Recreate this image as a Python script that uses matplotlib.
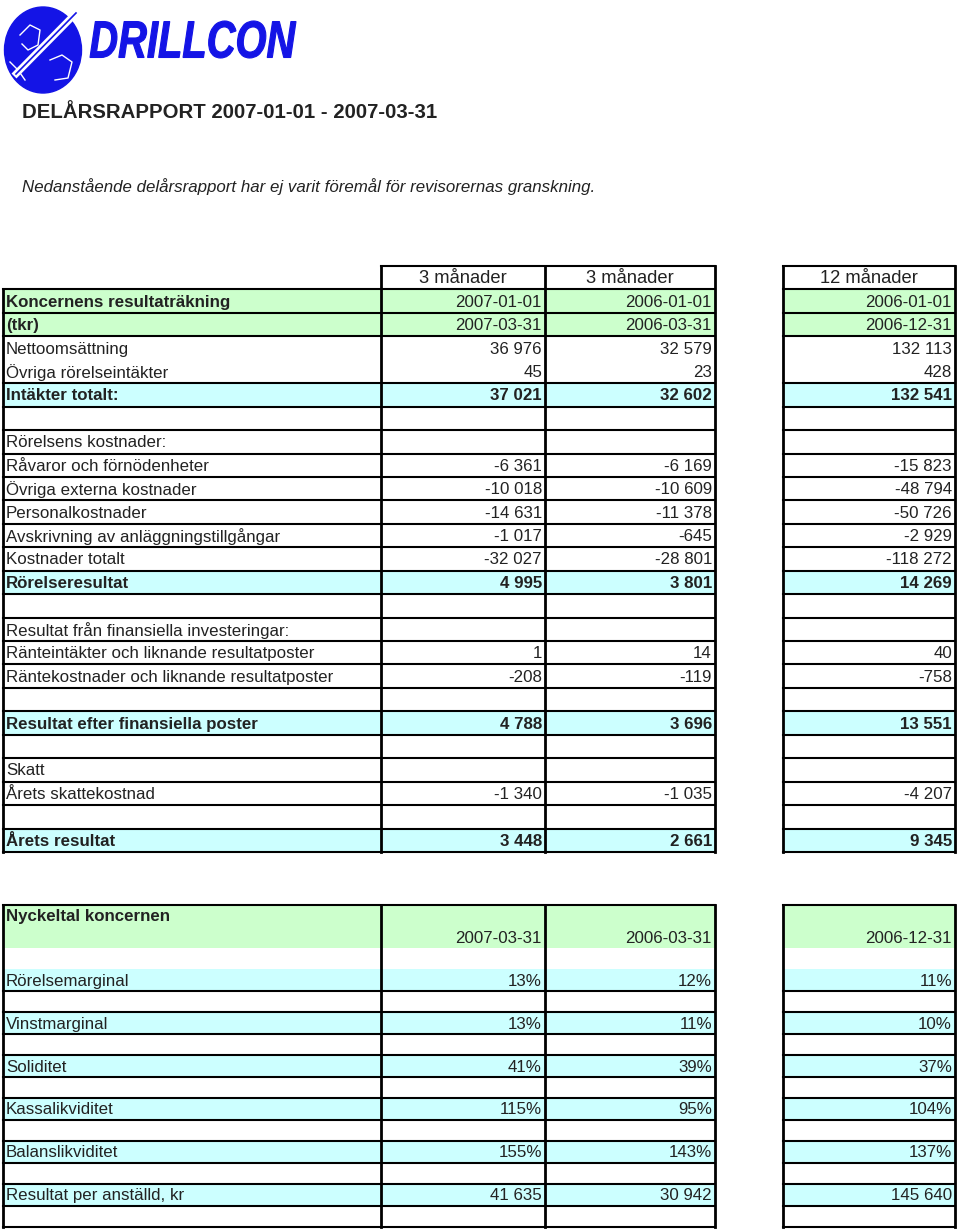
import matplotlib.pyplot as plt
from matplotlib.patches import Rectangle, Ellipse, PathPatch
from matplotlib.textpath import TextPath
from matplotlib.font_manager import FontProperties
from matplotlib.transforms import Affine2D

plt.rcParams['font.family'] = ['Liberation Sans', 'DejaVu Sans']

# --- data -------------------------------------------------------------
period_len = ["3 månader", "3 månader", "12 månader"]
period_start = ["2007-01-01", "2006-01-01", "2006-01-01"]
period_end = ["2007-03-31", "2006-03-31", "2006-12-31"]

labels = ["Nettoomsättning", "Övriga rörelseintäkter", "Intäkter totalt:", "",
          "Rörelsens kostnader:", "Råvaror och förnödenheter",
          "Övriga externa kostnader", "Personalkostnader",
          "Avskrivning av anläggningstillgångar", "Kostnader totalt",
          "Rörelseresultat", "", "Resultat från finansiella investeringar:",
          "Ränteintäkter och liknande resultatposter",
          "Räntekostnader och liknande resultatposter", "",
          "Resultat efter finansiella poster", "", "Skatt",
          "Årets skattekostnad", "", "Årets resultat"]
q1_2007 = [36976, 45, 37021, None, None, -6361, -10018, -14631, -1017, -32027,
           4995, None, None, 1, -208, None, 4788, None, None, -1340, None, 3448]
q1_2006 = [32579, 23, 32602, None, None, -6169, -10609, -11378, -645, -28801,
           3801, None, None, 14, -119, None, 3696, None, None, -1035, None, 2661]
fy_2006 = [132113, 428, 132541, None, None, -15823, -48794, -50726, -2929,
           -118272, 14269, None, None, 40, -758, None, 13551, None, None,
           -4207, None, 9345]

kpi_labels = ["Rörelsemarginal", "Vinstmarginal", "Soliditet",
              "Kassalikviditet", "Balanslikviditet", "Resultat per anställd, kr"]
kpi_unit = ["%", "%", "%", "%", "%", ""]
kpi_2007q1 = [13, 13, 41, 115, 155, 41635]
kpi_2006q1 = [12, 11, 39, 95, 143, 30942]
kpi_2006 = [11, 10, 37, 104, 137, 145640]

# styling
bold_rows = {"Intäkter totalt:", "Rörelseresultat",
             "Resultat efter finansiella poster", "Årets resultat"}
GREEN = "#ccffcc"
CYAN = "#ccffff"
TXT = "#222222"
BLUE = "#1414e6"
FS = 12.2
cols = [(3, 381), (381, 545), (545, 715), (783, 955)]


def fmt(v):
    s = f"{abs(v):,}".replace(",", " ")
    return ("-" if v < 0 else "") + s


fig = plt.figure(figsize=(9.6, 12.31), dpi=100)
ax = fig.add_axes([0, 0, 1, 1])
ax.set_xlim(0, 960)
ax.set_ylim(1231, 0)
ax.axis("off")

# --- logo -------------------------------------------------------------
ax.add_patch(Ellipse((43, 50), 77, 86, color=BLUE))
ax.plot([20, 30, 40, 38, 28, 22], [35, 25, 30, 45, 50, 44], color="white", lw=1)
ax.plot([50, 62, 72, 68, 55], [60, 55, 62, 78, 80], color="white", lw=1)
ax.plot([10, 18, 25], [62, 70, 80], color="white", lw=1)
ax.plot([14, 78], [76, 11], color="white", lw=5, solid_capstyle="butt")
ax.plot([16, 76], [74, 13], color=BLUE, lw=1.2)
tp = TextPath((0, 0), "DRILLCON", size=1,
              prop=FontProperties(family="Liberation Sans", weight="bold", style="italic"))
bb = tp.get_extents()
tr = Affine2D().translate(-bb.x0, -bb.y0).scale(206 / bb.width, -37 / bb.height).translate(90, 58)
ax.add_patch(PathPatch(tr.transform_path(tp), facecolor=BLUE, edgecolor=BLUE, lw=0.8))

# --- titles -----------------------------------------------------------
ax.text(22, 113, "DELÅRSRAPPORT 2007-01-01 - 2007-03-31", fontsize=14.7,
        fontweight="bold", color=TXT, va="center")
ax.text(22, 187, "Nedanstående delårsrapport har ej varit föremål för revisorernas granskning.",
        fontsize=12.2, style="italic", color=TXT, va="center")

# --- table 1 ----------------------------------------------------------
top1, rh1 = 266, 23.44
n1 = 3 + len(labels)
ys1 = [top1 + k * rh1 for k in range(n1 + 1)]


def fill_row(y0, h, color):
    for x0, x1 in cols:
        ax.add_patch(Rectangle((x0, y0), x1 - x0, h, color=color, lw=0))


fill_row(ys1[1], 2 * rh1, GREEN)
for i, lab in enumerate(labels):
    if lab in bold_rows:
        fill_row(ys1[3 + i], rh1, CYAN)

for j, txt in enumerate(period_len):
    x0, x1 = cols[j + 1]
    ax.text((x0 + x1) / 2, ys1[0] + rh1 / 2 + 1, txt, fontsize=13.2,
            ha="center", va="center", color=TXT)

ax.text(6, ys1[1] + rh1 / 2 + 1, "Koncernens resultaträkning", fontsize=FS,
        fontweight="bold", va="center", color=TXT)
ax.text(6, ys1[2] + rh1 / 2 + 1, "(tkr)", fontsize=FS,
        fontweight="bold", va="center", color=TXT)
for j in range(3):
    xr = cols[j + 1][1] - 3
    ax.text(xr, ys1[1] + rh1 / 2 + 1, period_start[j], fontsize=FS,
            ha="right", va="center", color=TXT)
    ax.text(xr, ys1[2] + rh1 / 2 + 1, period_end[j], fontsize=FS,
            ha="right", va="center", color=TXT)

for i, lab in enumerate(labels):
    yc = ys1[3 + i] + rh1 / 2 + 1
    w = "bold" if lab in bold_rows else "normal"
    ax.text(6, yc, lab, fontsize=FS, fontweight=w, va="center", color=TXT)
    for j, series in enumerate([q1_2007, q1_2006, fy_2006]):
        v = series[i]
        if v is not None:
            ax.text(cols[j + 1][1] - 3, yc, fmt(v), fontsize=FS, fontweight=w,
                    ha="right", va="center", color=TXT)

# grid lines table 1
for k, y in enumerate(ys1):
    if k == 4:
        continue
    if k == 0:
        ax.plot([381, 715], [y, y], color="black", lw=1.5)
    else:
        ax.plot([3, 715], [y, y], color="black", lw=1.5)
    ax.plot([783, 955], [y, y], color="black", lw=1.5)
ax.plot([3, 3], [ys1[1], ys1[-1]], color="black", lw=2)
for x in [381, 545, 715, 783, 955]:
    ax.plot([x, x], [ys1[0], ys1[-1]], color="black", lw=2)

# --- table 2 ----------------------------------------------------------
top2, rh2 = 905, 21.47
n2 = 3 + 2 * len(kpi_labels)
ys2 = [top2 + k * rh2 for k in range(n2 + 1)]

fill_row(ys2[0], 2 * rh2, GREEN)
for i in range(len(kpi_labels)):
    fill_row(ys2[3 + 2 * i], rh2, CYAN)

ax.text(6, ys2[0] + rh2 / 2 + 1, "Nyckeltal koncernen", fontsize=FS,
        fontweight="bold", va="center", color=TXT)
for j in range(3):
    ax.text(cols[j + 1][1] - 3, ys2[1] + rh2 / 2 + 1, period_end[j], fontsize=FS,
            ha="right", va="center", color=TXT)

for i, lab in enumerate(kpi_labels):
    yc = ys2[3 + 2 * i] + rh2 / 2 + 1
    ax.text(6, yc, lab, fontsize=FS, va="center", color=TXT)
    for j, series in enumerate([kpi_2007q1, kpi_2006q1, kpi_2006]):
        v = series[i]
        s = f"{v}%" if kpi_unit[i] == "%" else fmt(v)
        ax.text(cols[j + 1][1] - 3, yc, s, fontsize=FS,
                ha="right", va="center", color=TXT)

for k, y in enumerate(ys2):
    if k in (1, 2, 3):
        continue
    ax.plot([3, 715], [y, y], color="black", lw=1.5)
    ax.plot([783, 955], [y, y], color="black", lw=1.5)
for x in [3, 381, 545, 715, 783, 955]:
    ax.plot([x, x], [ys2[0], ys2[-1]], color="black", lw=2)

fig.savefig("out.png", dpi=100)
